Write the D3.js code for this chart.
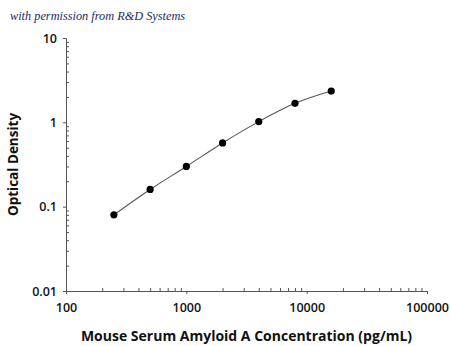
<!DOCTYPE html>
<html><head><meta charset="utf-8">
<script src="https://cdn.jsdelivr.net/npm/d3@7"></script>
<style>body{margin:0;background:#fff}svg{display:block}</style>
</head><body>
<svg id="c" width="450" height="346"></svg>
<script>
const concentrations = [250, 500, 1000, 2000, 4000, 8000, 16000];
const opticalDensity = [0.08, 0.16, 0.30, 0.57, 1.02, 1.68, 2.35];
const xTickValues = [100, 1000, 10000, 100000];
const yTickValues = [0.01, 0.1, 1, 10];
const yTickLabels = ["0.01", "0.1", "1", "10"];

(function () {
const svg = d3.select("#c");
const mLeft = 66, mRight = 427, mTop = 38, mBottom = 291;
const x = d3.scaleLog().domain([100, 100000]).range([mLeft, mRight]);
const y = d3.scaleLog().domain([0.01, 10]).range([mBottom, mTop]);
const axisColor = "#555";
const font = "'Open Sans', 'Liberation Sans', sans-serif";

// watermark
svg.append("text").attr("x", 10).attr("y", 20)
  .attr("font-family", "'Liberation Serif', 'DejaVu Serif', serif")
  .attr("font-style", "italic").attr("font-size", 12.3)
  .attr("fill", "#1c2b5e").text("with permission from R&D Systems");

// minor ticks
const minorX = [], minorY = [];
[100, 1000, 10000].forEach(d => { for (let k = 2; k <= 9; k++) minorX.push(d * k); });
[0.01, 0.1, 1].forEach(d => { for (let k = 2; k <= 9; k++) minorY.push(+(d * k).toPrecision(3)); });

svg.append("g").attr("transform", `translate(0,${mBottom})`)
  .call(d3.axisBottom(x).tickValues(xTickValues).tickFormat(d3.format("d")).tickSize(3).tickPadding(9));
svg.append("g").attr("transform", `translate(${mLeft},0)`)
  .call(d3.axisLeft(y).tickValues(yTickValues).tickFormat((d, i) => yTickLabels[i]).tickSize(3).tickPadding(6));
const xMinor = svg.append("g").attr("transform", `translate(0,${mBottom})`)
  .call(d3.axisTop(x).tickValues(minorX).tickFormat("").tickSize(3));
const yMinor = svg.append("g").attr("transform", `translate(${mLeft},0)`)
  .call(d3.axisRight(y).tickValues(minorY).tickFormat("").tickSize(3));
[xMinor, yMinor].forEach(g => g.select(".domain").remove());
svg.selectAll(".tick line").attr("stroke", axisColor);
svg.selectAll(".domain").attr("stroke", axisColor);
svg.selectAll(".tick text").attr("font-family", font).attr("font-size", 12.5)
  .attr("font-weight", 600).attr("fill", "#111");

// curve
const pts = concentrations.map((c, i) => [c, opticalDensity[i]]);
svg.append("path").datum(pts)
  .attr("fill", "none").attr("stroke", "#555").attr("stroke-width", 1.1)
  .attr("d", d3.line().x(d => x(d[0])).y(d => y(d[1])).curve(d3.curveMonotoneX));
svg.selectAll("circle.pt").data(pts).join("circle").attr("class", "pt")
  .attr("cx", d => x(d[0])).attr("cy", d => y(d[1])).attr("r", 3.6).attr("fill", "#000");

// axis titles
svg.append("text").attr("x", (mLeft + mRight) / 2).attr("y", 341)
  .attr("text-anchor", "middle").attr("font-family", font).attr("font-weight", 700)
  .attr("font-size", 14).attr("fill", "#111")
  .text("Mouse Serum Amyloid A Concentration (pg/mL)");
svg.append("text").attr("transform", `translate(18,${(mTop + mBottom) / 2}) rotate(-90)`)
  .attr("text-anchor", "middle").attr("font-family", font).attr("font-weight", 700)
  .attr("font-size", 13.5).attr("fill", "#111").text("Optical Density");
})();
</script>
</body></html>
